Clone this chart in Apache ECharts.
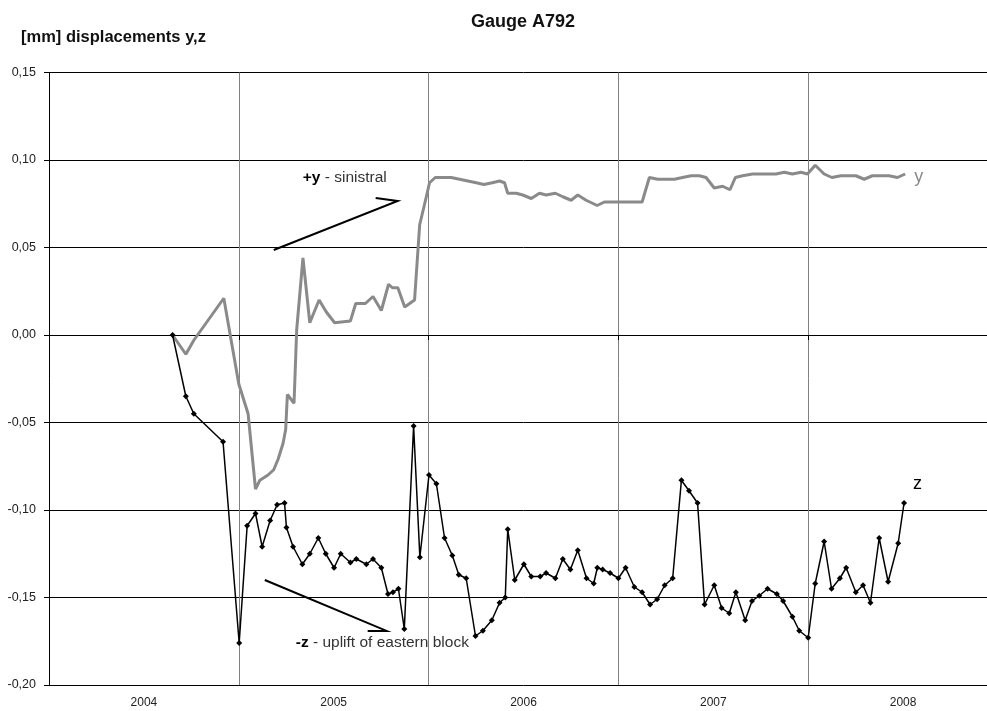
<!DOCTYPE html>
<html>
<head>
<meta charset="utf-8">
<title>Gauge A792</title>
<script src="https://cdn.jsdelivr.net/npm/echarts/dist/echarts.min.js"></script>
<style>
  html, body { margin: 0; padding: 0; overflow: hidden; background: #fff; }
  #chart { width: 1000px; height: 711px; }
</style>
</head>
<body>
<div id="chart"></div>
<script>
// Measurement epochs as decimal years, with displacements in mm
const yDates = [2004.651, 2004.721, 2004.763, 2004.921, 2005.000, 2005.049, 2005.088, 2005.111, 2005.154, 2005.184,
  2005.207, 2005.233, 2005.247, 2005.256, 2005.291, 2005.305, 2005.338, 2005.374, 2005.423, 2005.462,
  2005.505, 2005.588, 2005.616, 2005.667, 2005.707, 2005.751, 2005.789, 2005.809, 2005.838, 2005.874,
  2005.926, 2005.953, 2005.988, 2006.005, 2006.035, 2006.075, 2006.119, 2006.163, 2006.207, 2006.251,
  2006.291, 2006.335, 2006.374, 2006.400, 2006.417, 2006.462, 2006.496, 2006.541, 2006.584, 2006.619,
  2006.668, 2006.707, 2006.751, 2006.786, 2006.830, 2006.888, 2006.926, 2006.962, 2006.996, 2007.041,
  2007.084, 2007.125, 2007.163, 2007.207, 2007.251, 2007.295, 2007.338, 2007.383, 2007.426, 2007.462,
  2007.505, 2007.549, 2007.588, 2007.616, 2007.654, 2007.707, 2007.751, 2007.795, 2007.830, 2007.874,
  2007.917, 2007.962, 2007.996, 2008.037, 2008.084, 2008.125, 2008.172, 2008.216, 2008.251, 2008.295,
  2008.338, 2008.383, 2008.426, 2008.470, 2008.511];
const yValues = [0.000, -0.011, -0.003, 0.021, -0.028, -0.045, -0.088, -0.083, -0.080, -0.077,
  -0.071, -0.062, -0.054, -0.034, -0.039, 0.003, 0.044, 0.007, 0.020, 0.013,
  0.007, 0.008, 0.018, 0.018, 0.022, 0.014, 0.029, 0.027, 0.027, 0.016,
  0.020, 0.063, 0.079, 0.087, 0.090, 0.090, 0.090, 0.089, 0.088, 0.087,
  0.086, 0.087, 0.088, 0.087, 0.081, 0.081, 0.080, 0.078, 0.081, 0.080,
  0.081, 0.079, 0.077, 0.080, 0.077, 0.074, 0.076, 0.076, 0.076, 0.076,
  0.076, 0.076, 0.090, 0.089, 0.089, 0.089, 0.090, 0.091, 0.091, 0.090,
  0.084, 0.085, 0.083, 0.090, 0.091, 0.092, 0.092, 0.092, 0.092, 0.093,
  0.092, 0.093, 0.092, 0.097, 0.092, 0.090, 0.091, 0.091, 0.091, 0.089,
  0.091, 0.091, 0.091, 0.090, 0.092];

const zDates = [2004.651, 2004.721, 2004.763, 2004.917, 2005.002, 2005.044, 2005.088, 2005.123, 2005.165, 2005.202,
  2005.241, 2005.251, 2005.286, 2005.335, 2005.374, 2005.419, 2005.458, 2005.502, 2005.537, 2005.588,
  2005.619, 2005.672, 2005.707, 2005.751, 2005.786, 2005.812, 2005.841, 2005.872, 2005.921, 2005.954,
  2006.002, 2006.041, 2006.084, 2006.125, 2006.159, 2006.198, 2006.247, 2006.286, 2006.333, 2006.374,
  2006.404, 2006.417, 2006.454, 2006.502, 2006.541, 2006.588, 2006.619, 2006.668, 2006.707, 2006.747,
  2006.786, 2006.832, 2006.870, 2006.889, 2006.917, 2006.956, 2007.000, 2007.038, 2007.084, 2007.125,
  2007.167, 2007.204, 2007.244, 2007.286, 2007.332, 2007.372, 2007.417, 2007.454, 2007.505, 2007.544,
  2007.584, 2007.619, 2007.668, 2007.704, 2007.742, 2007.786, 2007.835, 2007.868, 2007.917, 2007.953,
  2008.000, 2008.037, 2008.084, 2008.123, 2008.167, 2008.200, 2008.251, 2008.289, 2008.328, 2008.374,
  2008.421, 2008.474, 2008.505];
const zValues = [0.000, -0.035, -0.045, -0.061, -0.176, -0.109, -0.102, -0.121, -0.106, -0.097,
  -0.096, -0.110, -0.121, -0.131, -0.125, -0.116, -0.125, -0.133, -0.125, -0.130,
  -0.128, -0.131, -0.128, -0.133, -0.148, -0.147, -0.145, -0.168, -0.052, -0.127,
  -0.080, -0.085, -0.116, -0.126, -0.137, -0.139, -0.172, -0.169, -0.163, -0.153,
  -0.150, -0.111, -0.140, -0.131, -0.138, -0.138, -0.136, -0.139, -0.128, -0.134,
  -0.123, -0.139, -0.142, -0.133, -0.134, -0.136, -0.139, -0.133, -0.144, -0.147,
  -0.154, -0.151, -0.143, -0.139, -0.083, -0.089, -0.096, -0.154, -0.143, -0.156,
  -0.159, -0.147, -0.163, -0.152, -0.149, -0.145, -0.148, -0.152, -0.161, -0.169,
  -0.173, -0.142, -0.118, -0.145, -0.139, -0.133, -0.147, -0.143, -0.153, -0.116,
  -0.141, -0.119, -0.096];

const yearLabels = ['2004', '2005', '2006', '2007', '2008'];
const yTicks = { min: -0.20, max: 0.15, step: 0.05 };

const FONT = '"Liberation Sans", Arial, sans-serif';

const chart = echarts.init(document.getElementById('chart'), null, { renderer: 'canvas' });

const pairs = (xs, vs) => xs.map((x, i) => [x, vs[i]]);

chart.setOption({
  backgroundColor: '#ffffff',
  animation: false,
  title: [
    {
      text: 'Gauge A792',
      left: 518,
      top: 8,
      textAlign: 'center',
      textStyle: { fontFamily: FONT, fontSize: 18, fontWeight: 'bold', color: '#111' }
    },
    {
      text: '[mm] displacements y,z',
      left: 16,
      top: 24,
      textStyle: { fontFamily: FONT, fontSize: 16.5, fontWeight: 'bold', color: '#111' }
    }
  ],
  grid: { left: 49, right: 2, top: 72.5, bottom: 26 },
  xAxis: [
    {
      type: 'value',
      min: 2004, max: 2009, interval: 1,
      axisLine: { show: true, lineStyle: { color: '#000', width: 1 } },
      axisTick: { show: true, length: 5, lineStyle: { color: '#000' } },
      axisLabel: { show: false },
      splitLine: { show: true, lineStyle: { color: '#808080', width: 1 } }
    },
    {
      type: 'category',
      data: yearLabels,
      position: 'bottom',
      boundaryGap: true,
      axisLine: { show: false },
      axisTick: { show: false },
      splitLine: { show: false },
      axisLabel: { fontFamily: FONT, fontSize: 12, color: '#222', margin: 12 }
    }
  ],
  yAxis: {
    type: 'value',
    min: yTicks.min, max: yTicks.max, interval: yTicks.step,
    axisLine: { show: true, lineStyle: { color: '#000', width: 1 } },
    axisTick: { show: true, length: 5, lineStyle: { color: '#000' } },
    axisLabel: {
      fontFamily: FONT, fontSize: 12.5, color: '#222', margin: 13,
      formatter: v => v.toFixed(2).replace('.', ',')
    },
    splitLine: { show: true, lineStyle: { color: '#000', width: 1 } }
  },
  series: [
    {
      name: 'y',
      type: 'line',
      xAxisIndex: 0,
      data: pairs(yDates, yValues),
      showSymbol: false,
      symbol: 'none',
      lineStyle: { color: '#8a8a8a', width: 3 },
      itemStyle: { color: '#8a8a8a' },
      endLabel: {
        show: true, formatter: 'y', distance: 9, offset: [0, 3],
        fontFamily: FONT, fontSize: 18, color: '#8a8a8a'
      },
      z: 2
    },
    {
      name: 'z',
      type: 'line',
      xAxisIndex: 0,
      data: pairs(zDates, zValues),
      symbol: 'diamond',
      symbolSize: 6,
      lineStyle: { color: '#000', width: 1.5 },
      itemStyle: { color: '#000' },
      endLabel: {
        show: true, formatter: 'z', distance: 9, offset: [0, -19],
        fontFamily: FONT, fontSize: 18, color: '#000'
      },
      z: 3
    }
  ]
});

// Annotation arrows and captions, placed in axis coordinates
function px(x, y) { return chart.convertToPixel({ xAxisIndex: 0, yAxisIndex: 0 }, [x, y]); }

function drawNotes() {
  const a1 = px(2005.184, 0.0486), a2 = px(2005.837, 0.0766), a3 = px(2005.721, 0.0783);
  const b1 = px(2005.137, -0.140), b2 = px(2005.779, -0.1691), b3 = px(2005.679, -0.1691);
  const t1 = px(2005.337, 0.0897), t2 = px(2005.300, -0.176);
  const noteStyle = (text) => ({
    text, verticalAlign: 'middle',
    fontFamily: FONT, fontSize: 15.5, fill: '#333',
    rich: { b: { fontFamily: FONT, fontSize: 15.5, fontWeight: 'bold', fill: '#000' } }
  });
  chart.setOption({
    graphic: [
      { type: 'polyline', shape: { points: [a1, a2, a3] }, style: { stroke: '#000', lineWidth: 2, fill: null }, z: 10 },
      { type: 'polyline', shape: { points: [b1, b2, b3] }, style: { stroke: '#000', lineWidth: 2, fill: null }, z: 10 },
      { type: 'text', x: t1[0], y: t1[1], z: 10, style: noteStyle('{b|+y} - sinistral') },
      { type: 'text', x: t2[0], y: t2[1], z: 10, style: noteStyle('{b|-z} - uplift of eastern block') }
    ]
  });
}
drawNotes();
</script>
</body>
</html>
